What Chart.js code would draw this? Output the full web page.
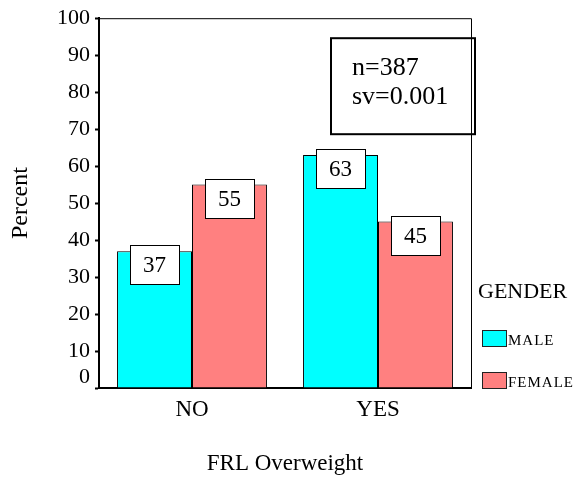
<!DOCTYPE html>
<html>
<head>
<meta charset="utf-8">
<script src="https://cdn.jsdelivr.net/npm/chart.js@4.4.1/dist/chart.umd.min.js"></script>
<style>
  html, body { margin: 0; padding: 0; background: #fff; }
  #wrap { width: 573px; height: 478px; }
</style>
</head>
<body>
<div id="wrap"><canvas id="chart"></canvas></div>
<script>
const categories = ['NO', 'YES'];
const maleValues = [37, 63];
const femaleValues = [55, 45];
const yTicks = { min: 0, max: 100, step: 10 };
const legendTitle = 'GENDER';
const notes = ['n=387', 'sv=0.001'];

const SERIF = '"Liberation Serif", "Times New Roman", serif';

// white value boxes sitting on top of each bar
const valueBoxes = {
  id: 'valueBoxes',
  afterDatasetsDraw(chart) {
    const ctx = chart.ctx;
    ctx.save();
    ctx.font = '23px ' + SERIF;
    ctx.textAlign = 'center';
    ctx.textBaseline = 'middle';
    chart.data.datasets.forEach((ds, i) => {
      chart.getDatasetMeta(i).data.forEach((bar, j) => {
        const w = 49, h = 39;
        const x = Math.round(bar.x - w / 2) + 0.5;
        const y = Math.round(bar.y - 6) + 0.5;
        ctx.fillStyle = '#fff';
        ctx.fillRect(x, y, w, h);
        ctx.strokeStyle = '#000';
        ctx.lineWidth = 1;
        ctx.strokeRect(x, y, w, h);
        ctx.fillStyle = '#000';
        ctx.fillText(String(ds.data[j]), bar.x, y + h / 2 + 1);
      });
    });
    ctx.restore();
  }
};

// frame, the lone "0" label, the n/sv box and the legend
const extras = {
  id: 'extras',
  afterDraw(chart) {
    const ctx = chart.ctx;
    const a = chart.chartArea;
    const yScale = chart.scales.y;
    ctx.save();

    ctx.strokeStyle = '#000';
    ctx.lineWidth = 1;
    ctx.beginPath();
    ctx.moveTo(a.left, a.top + 0.5);
    ctx.lineTo(a.right + 0.5, a.top + 0.5);
    ctx.lineTo(a.right + 0.5, a.bottom);
    ctx.stroke();

    ctx.fillStyle = '#000';
    ctx.font = '22px ' + SERIF;
    ctx.textAlign = 'right';
    ctx.textBaseline = 'middle';
    ctx.fillText('0', a.left - 9, yScale.getPixelForValue(0) - 11);

    // note box
    const bx = a.right - 140, by = a.top + 20;
    ctx.lineWidth = 2;
    ctx.strokeRect(bx, by, 144, 96);
    ctx.font = '26px ' + SERIF;
    ctx.textAlign = 'left';
    ctx.textBaseline = 'alphabetic';
    ctx.fillStyle = '#000';
    ctx.fillText(notes[0], bx + 21, by + 37);
    ctx.fillText(notes[1], bx + 21, by + 66);

    // legend
    ctx.font = '22px ' + SERIF;
    ctx.fillText(legendTitle, a.right + 7, 298);
    ctx.font = '15px ' + SERIF;
    ctx.letterSpacing = '1px';
    const rows = [330, 372];
    chart.data.datasets.forEach((ds, i) => {
      const sy = rows[i];
      ctx.fillStyle = ds.backgroundColor;
      ctx.fillRect(a.right + 11, sy, 24, 16);
      ctx.strokeStyle = '#222';
      ctx.lineWidth = 1;
      ctx.strokeRect(a.right + 11.5, sy + 0.5, 24, 16);
      ctx.fillStyle = '#000';
      ctx.fillText(ds.label, a.right + 37, sy + 15);
    });
    ctx.restore();
  }
};

new Chart(document.getElementById('chart'), {
  type: 'bar',
  data: {
    labels: categories,
    datasets: [
      { label: 'MALE', data: maleValues, backgroundColor: '#00FFFF', borderColor: '#000', borderWidth: 1 },
      { label: 'FEMALE', data: femaleValues, backgroundColor: '#FF8080', borderColor: '#000', borderWidth: 1 }
    ]
  },
  options: {
    responsive: true,
    maintainAspectRatio: false,
    animation: false,
    layout: { padding: { top: 16, right: 102, left: 0, bottom: 0 } },
    plugins: {
      legend: { display: false },
      tooltip: { enabled: false }
    },
    datasets: {
      bar: { categoryPercentage: 0.806, barPercentage: 1 }
    },
    scales: {
      x: {
        afterFit(scale) { scale.height = 90; },
        grid: { display: false },
        border: { display: true, color: '#000', width: 2 },
        ticks: { color: '#000', font: { family: SERIF, size: 23 }, padding: 0 },
        title: {
          display: true, text: 'FRL Overweight', color: '#000',
          font: { family: SERIF, size: 23 }, padding: { top: 0, bottom: 0 }
        }
      },
      y: {
        min: yTicks.min,
        max: yTicks.max,
        afterFit(scale) { scale.width = 99; },
        grid: { drawOnChartArea: false, drawTicks: true, tickLength: 4, tickWidth: 2, tickColor: '#000' },
        border: { display: true, color: '#000', width: 2 },
        ticks: {
          stepSize: yTicks.step,
          color: '#000',
          padding: 5,
          font: { family: SERIF, size: 22 },
          callback: v => (v === 0 ? '' : v)
        },
        title: {
          display: true, text: 'Percent', color: '#000',
          font: { family: SERIF, size: 24 }, padding: { top: 6, bottom: 0 }
        }
      }
    }
  },
  plugins: [valueBoxes, extras]
});
</script>
</body>
</html>
